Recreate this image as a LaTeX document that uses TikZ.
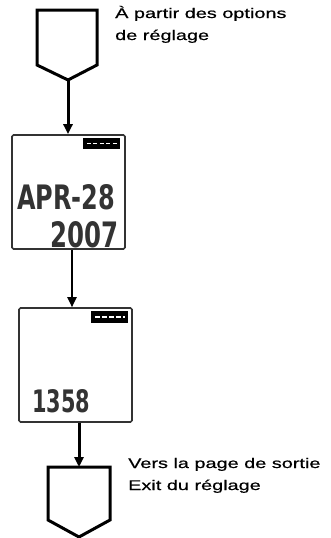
\documentclass[tikz,border=0pt]{standalone}
\usepackage{fontspec}
\setmainfont{Liberation Sans}
\newfontfamily\lblfont[FakeStretch=1.42,FakeBold=0.6]{Liberation Sans}
\newfontfamily\lcdfont{DejaVu Sans}
\usetikzlibrary{arrows.meta}
\definecolor{lcdgray}{HTML}{333333}
\tikzset{
  pent/.style={line width=3pt, line join=miter},
  lcdbox/.style={draw=lcdgray, line width=1.6pt, rounded corners=1.5pt, minimum width=113pt, minimum height=114pt, inner sep=0pt},
  flowarrow/.style={line width=3pt, -{Triangle[length=10pt,width=9pt]}},
  thinarrow/.style={line width=2pt, -{Triangle[length=10pt,width=9pt]}},
  lbl/.style={anchor=base west, inner sep=0pt, align=left, font=\lblfont\fontsize{14pt}{22pt}\selectfont},
  lcdtxt/.style={inner sep=0pt, text=lcdgray, font=\lcdfont\bfseries},
  ind/.style={fill=black, draw=none, inner sep=0pt}
}
\begin{document}
\begin{tikzpicture}[x=1pt,y=-1pt]
\useasboundingbox (0,0) rectangle (331,538);
% top pentagon
\draw[pent] (37,10) -- (97,10) -- (97,65) -- (68,80) -- (37,65) -- cycle;
\coordinate (p1tip) at (68,80);
\node[lbl] (t1) at (115,40) {À partir des options\\de réglage};
% box 1
\node[lcdbox] (box1) at (68.5,192) {};
\node[ind, minimum width=37pt, minimum height=11pt] (ind1) at (101.5,143.5) {};
\draw[white, line width=1.6pt, dash pattern=on 4pt off 2.5pt] ([xshift=4pt]ind1.west) -- ([xshift=-3pt]ind1.east);
\node[lcdtxt, anchor=south west] (apr) at (17,210) {\resizebox{98pt}{25pt}{APR-28}};
\node[lcdtxt, anchor=south west] (yr) at (50,248) {\resizebox{68pt}{26pt}{2007}};
% box 2
\node[lcdbox] (box2) at (75.5,365) {};
\node[ind, minimum width=37pt, minimum height=12pt] (ind2) at (109.5,317) {};
\draw[white, line width=1.6pt, dash pattern=on 5pt off 2pt] ([xshift=4pt]ind2.west) -- ([xshift=-3pt]ind2.east);
\node[lcdtxt, anchor=south west] (time) at (32,413) {\resizebox{58pt}{23pt}{1358}};
% bottom pentagon
\draw[pent] (48,467) -- (110,467) -- (110,520) -- (79,537) -- (48,520) -- cycle;
\coordinate (p2top) at (79,467);
\node[lbl] (t2) at (128,490) {Vers la page de sortie\\Exit du réglage};
% arrows
\draw[flowarrow] (p1tip) -- (box1.north -| p1tip);
\coordinate (a2) at (72,0);
\draw[thinarrow] (box1.south -| a2) -- (box2.north -| a2);
\draw[flowarrow] (box2.south -| p2top) -- (p2top);
\end{tikzpicture}
\end{document}
